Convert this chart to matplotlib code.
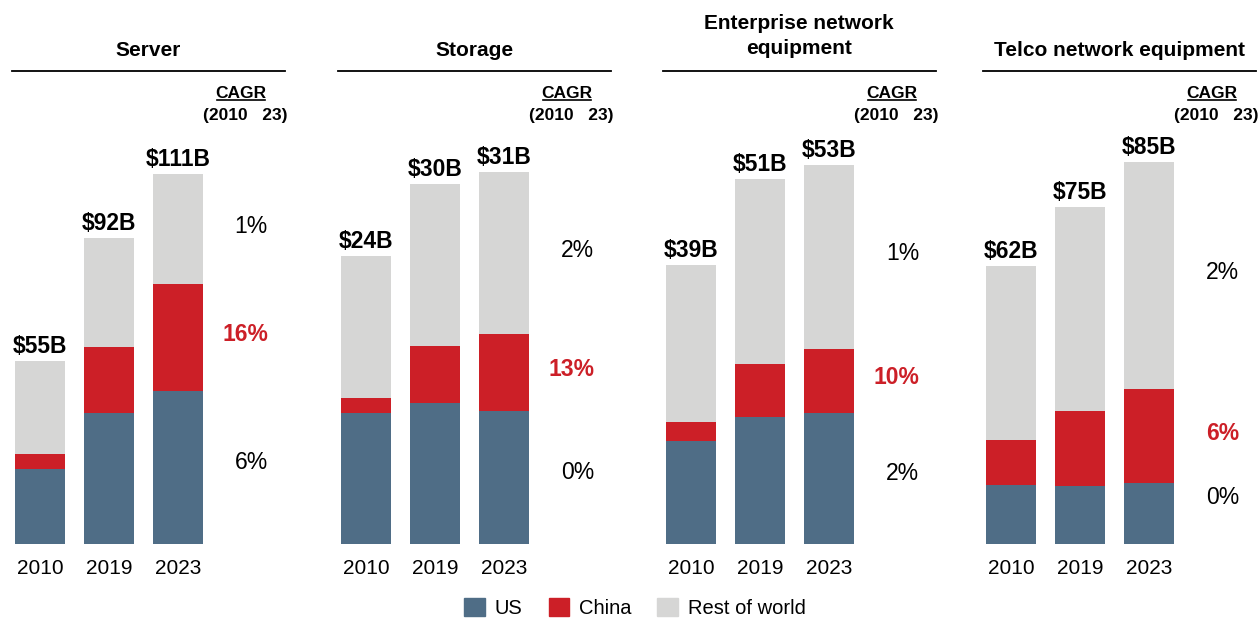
import matplotlib.pyplot as plt
from matplotlib.lines import Line2D
from matplotlib.patches import Patch

plt.rcParams['font.family'] = ['Liberation Sans', 'DejaVu Sans']

W, H = 1260, 620

panels = ['Server', 'Storage', 'Enterprise network\nequipment', 'Telco network equipment']
years = ['2010', '2019', '2023']

us = [[22.5, 39.3, 46.0], [10.9, 11.8, 11.1], [14.4, 17.8, 18.3], [13.1, 12.9, 13.6]]
china = [[4.5, 19.9, 32.0], [1.3, 4.7, 6.4], [2.7, 7.4, 9.0], [10.1, 16.7, 20.9]]
totals = [[55, 92, 111], [24, 30, 31], [39, 51, 53], [62, 75, 85]]
total_labels = [['$55B', '$92B', '$111B'], ['$24B', '$30B', '$31B'],
                ['$39B', '$51B', '$53B'], ['$62B', '$75B', '$85B']]
cagr_us = ['6%', '0%', '2%', '0%']
cagr_china = ['16%', '13%', '10%', '6%']
cagr_row = ['1%', '2%', '1%', '2%']

# per-panel y scale (each panel has its own axis)
ylim_top = [121.3, 33.7, 56.5, 90.0]
panel_left = [12, 338, 663, 983]

c_us = '#4F6D86'
c_cn = '#CC1F27'
c_row = '#D6D6D5'

fig = plt.figure(figsize=(12.6, 6.2), dpi=100)

step = 69.0
ax_bottom, ax_top = 544, 140

for i, name in enumerate(panels):
    L = panel_left[i]
    ax = fig.add_axes([L / W, 1 - ax_bottom / H, 280 / W, (ax_bottom - ax_top) / H])
    x = range(3)
    row = [t - u - c for t, u, c in zip(totals[i], us[i], china[i])]
    bottoms2 = [u + c for u, c in zip(us[i], china[i])]
    ax.bar(x, us[i], width=50 / step, color=c_us)
    ax.bar(x, china[i], bottom=us[i], width=50 / step, color=c_cn)
    ax.bar(x, row, bottom=bottoms2, width=50 / step, color=c_row)
    ax.set_xlim(-28 / step, 252 / step)
    ax.set_ylim(0, ylim_top[i])
    for s in ax.spines.values():
        s.set_visible(False)
    ax.set_yticks([])
    ax.set_xticks(list(x))
    ax.set_xticklabels(years, fontsize=15)
    ax.tick_params(axis='x', length=0, pad=11)

    px = ylim_top[i] / (ax_bottom - ax_top)  # data units per pixel
    for j in x:
        ax.text(j, totals[i][j] + 3 * px, total_labels[i][j], ha='center', va='bottom',
                fontsize=16.5, fontweight='bold')

    # CAGR column at segment centres of the last bar
    xc = (256 - 28) / step
    u, c, t = us[i][2], china[i][2], totals[i][2]
    ax.text(xc, t - (t - u - c) / 2 + 3 * px, cagr_row[i], ha='right', va='center', fontsize=16.5)
    ax.text(xc, u + c / 2 + 3 * px, cagr_china[i], ha='right', va='center', fontsize=16.5,
            fontweight='bold', color=c_cn)
    ax.text(xc, max(u / 2 + 5 * px, 46 * px), cagr_us[i], ha='right', va='center', fontsize=16.5)

    # panel title + rule
    ys = 1 - 71 / H
    fig.add_artist(Line2D([L / W, (L + 273) / W], [ys, ys], color='black', lw=1.3))
    fig.text((L + 136) / W, 1 - 36 / H if '\n' in name else 1 - 50 / H, name,
             ha='center', va='center', fontsize=15, fontweight='bold', linespacing=1.45)

    # CAGR header
    fig.text((L + 229) / W, 1 - 93 / H, 'CAGR', ha='center', va='center', fontsize=12.5, fontweight='bold')
    fig.add_artist(Line2D([(L + 205) / W, (L + 253) / W], [1 - 100 / H, 1 - 100 / H],
                          color='black', lw=1.2))
    fig.text((L + 233) / W, 1 - 115 / H, '(2010   23)', ha='center', va='center',
             fontsize=12.5, fontweight='bold')

handles = [Patch(color=c_us, label='US'), Patch(color=c_cn, label='China'),
           Patch(color=c_row, label='Rest of world')]
fig.legend(handles=handles, loc='center', bbox_to_anchor=(635 / W, 1 - 608 / H), ncol=3,
           frameon=False, fontsize=14.5, handlelength=1.0, handleheight=1.0,
           handletextpad=0.5, columnspacing=1.3)

plt.savefig('out.png', dpi=100)
